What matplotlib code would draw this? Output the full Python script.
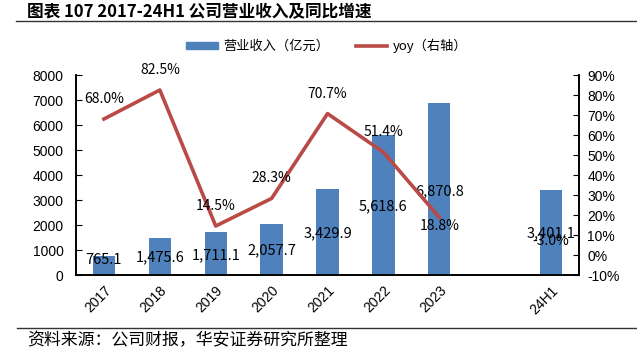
import numpy as np
import matplotlib.pyplot as plt
from matplotlib.lines import Line2D
from matplotlib.patches import Patch

plt.rcParams['font.family'] = ['Noto Sans CJK SC', 'DejaVu Sans']

# 数据
years = ['2017', '2018', '2019', '2020', '2021', '2022', '2023', '', '24H1']
revenue = [765.1, 1475.6, 1711.1, 2057.7, 3429.9, 5618.6, 6870.8, np.nan, 3401.1]
yoy = [68.0, 82.5, 14.5, 28.3, 70.7, 51.4, 18.8, np.nan, -3.0]

# 标签位置（手工摆放）
rev_label_y = [600, 720, 800, 1000, 1680, 2760, 3360, np.nan, 1680]
yoy_label_y = [78, 92.5, 24.5, 38.5, 80.5, 61.5, 14.5, np.nan, 7]

blue = '#4F81BD'
red = '#B94A48'

fig = plt.figure(figsize=(6.37, 3.56), dpi=100)
ax = fig.add_axes([0.1193, 0.2275, 0.7897, 0.5618])
ax2 = ax.twinx()

x = np.arange(len(years)) + 0.5
ax.bar(x, revenue, width=0.4, color=blue, zorder=2)
ax.set_xlim(0, len(years))
ax.set_ylim(0, 8000)
ax.set_yticks(range(0, 8001, 1000))

ax2.plot(x[:7], yoy[:7], color=red, lw=2.6, zorder=3)
ax2.set_ylim(-10, 90)
ax2.set_yticks(range(-10, 91, 10))
ax2.set_yticklabels([f'{t}%' for t in range(-10, 91, 10)])

ax.set_xticks(x)
ax.set_xticklabels(years, rotation=45, fontsize=10, family='Liberation Sans',
                   ha='right', rotation_mode='anchor')
ax.tick_params(axis='x', length=0, pad=6)
ax.tick_params(axis='y', direction='in', length=4, labelsize=10, pad=9)
ax2.tick_params(axis='y', direction='in', length=4, labelsize=10, pad=6)
for lab in ax.get_yticklabels() + ax2.get_yticklabels():
    lab.set_family('Liberation Sans')

for a in (ax, ax2):
    a.spines['top'].set_visible(False)
    a.spines['left'].set_linewidth(1.2)
    a.spines['right'].set_linewidth(1.2)
    a.spines['bottom'].set_linewidth(1.2)

for xi, v, ly in zip(x, revenue, rev_label_y):
    if np.isnan(v):
        continue
    ax.text(xi, ly, f'{v:,.1f}', ha='center', va='center', fontsize=10.5, zorder=5)

for xi, v, ly in zip(x, yoy, yoy_label_y):
    if np.isnan(v):
        continue
    ax2.text(xi, ly, f'{v:.1f}%', ha='center', va='center', fontsize=10, zorder=5)

handles = [Patch(color=blue), Line2D([0], [0], color=red, lw=2.6)]
fig.legend(handles, ['营业收入（亿元）', 'yoy（右轴）'], loc='center',
           bbox_to_anchor=(0.513, 0.871), ncol=2, frameon=False, fontsize=9.5,
           handlelength=2.4, handleheight=0.45, columnspacing=2.0, handletextpad=0.4)

# 标题与来源
fig.text(0.042, 0.966, '图表 107 2017-24H1 公司营业收入及同比增速', fontsize=12,
         fontweight='bold', va='center', ha='left')
fig.add_artist(Line2D([0.025, 1.0], [0.941, 0.941], color='#333333', lw=1))
fig.add_artist(Line2D([0.027, 1.0], [0.079, 0.079], color='#333333', lw=1))
fig.text(0.042, 0.045, '资料来源：公司财报，华安证券研究所整理', fontsize=12.2,
         va='center', ha='left')

fig.savefig('out.png', dpi=100)
